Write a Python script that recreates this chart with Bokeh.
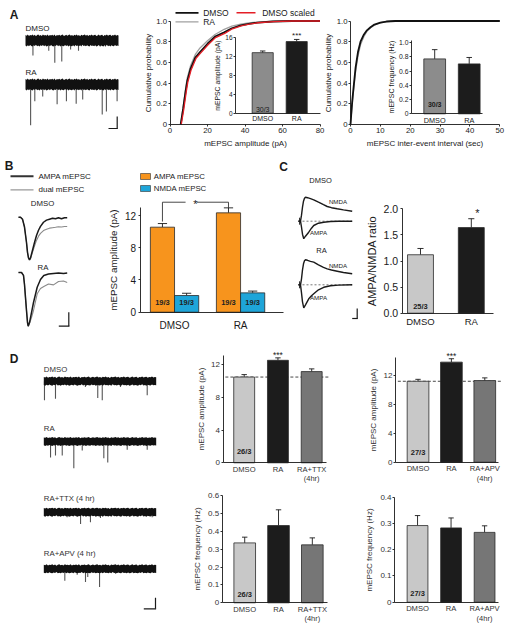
from bokeh.plotting import figure
from bokeh.models import Range1d, FixedTicker, LinearAxis
from bokeh.core.properties import value
from bokeh.embed import file_html
from bokeh.resources import INLINE

FONT = "Liberation Sans"
INK = "#1a1a1a"
W, H = 512, 626

# ======================= DATA =======================
# --- A: cumulative mEPSC amplitude distributions (pA, probability)
ampA_dmso_x = [5.7, 7, 8.4, 9.2, 11, 13.6, 16, 20, 24, 28.9, 33, 37.7, 42, 46.6, 55, 65, 80]
ampA_dmso_y = [0, 0.15, 0.33, 0.42, 0.54, 0.65, 0.70, 0.78, 0.85, 0.89, 0.93, 0.957, 0.972, 0.985, 0.995, 1.0, 1.0]
ampA_ra_x = [5.7, 7, 8.4, 9.2, 11, 13.6, 16, 20, 24, 28.9, 33, 37.7, 42, 46.6, 55, 65, 80]
ampA_ra_y = [0, 0.17, 0.36, 0.45, 0.57, 0.68, 0.74, 0.81, 0.87, 0.92, 0.95, 0.97, 0.982, 0.99, 0.998, 1.0, 1.0]
ampA_scaled_x = [6, 7.3, 8.7, 9.5, 11.3, 13.9, 16.3, 20.3, 24.3, 29.2, 33.3, 38, 42.3, 47, 55.3, 65.3, 80]
ampA_scaled_y = [0, 0.14, 0.32, 0.41, 0.53, 0.64, 0.69, 0.77, 0.84, 0.88, 0.925, 0.953, 0.97, 0.983, 0.994, 1.0, 1.0]
# --- A: cumulative inter-event interval distributions (sec, probability)
iei_x = [0, 0.3, 0.6, 1, 1.7, 2.5, 3.35, 4.5, 5.5, 6.7, 8, 10, 12, 15, 50]
iei_dmso = [0, 0.12, 0.23, 0.35, 0.55, 0.70, 0.80, 0.87, 0.91, 0.94, 0.965, 0.985, 0.995, 1.0, 1.0]
iei_ra = [0, 0.10, 0.20, 0.32, 0.51, 0.66, 0.77, 0.85, 0.90, 0.935, 0.96, 0.983, 0.994, 1.0, 1.0]
# --- A insets
A_groups = ["DMSO", "RA"]
A_amp_mean = [12.85, 15.2]
A_amp_err = [0.35, 0.45]
A_freq_mean = [0.77, 0.70]
A_freq_err = [0.13, 0.09]
A_n = "30/3"

# --- B: AMPA / NMDA mEPSC amplitude
B_groups = ["DMSO", "RA"]
B_ampa_mean = [10.55, 12.33]
B_ampa_err = [0.45, 0.62]
B_nmda_mean = [2.07, 2.40]
B_nmda_err = [0.28, 0.22]
B_n = "19/3"

# --- C: AMPA/NMDA ratio
C_groups = ["DMSO", "RA"]
C_mean = [1.12, 1.64]
C_err = [0.12, 0.17]
C_n = "25/3"

# --- D: amplitude and frequency
D1_groups = ["DMSO", "RA", "RA+TTX"]
D1_amp_mean = [10.5, 12.55, 11.17]
D1_amp_err = [0.30, 0.30, 0.33]
D1_freq_mean = [0.335, 0.432, 0.324]
D1_freq_err = [0.032, 0.088, 0.039]
D1_n = "26/3"
D2_groups = ["DMSO", "RA", "RA+APV"]
D2_amp_mean = [11.2, 13.85, 11.3]
D2_amp_err = [0.27, 0.47, 0.37]
D2_freq_mean = [0.292, 0.283, 0.266]
D2_freq_err = [0.038, 0.038, 0.025]
D2_n = "27/3"

# --- example traces: noise envelope (pA) and events (time s, amplitude pA)
noise_t = [i * 0.125 for i in range(81)]
noise_hi = [9, 8, 10, 7.5, 9, 8.5, 10, 8, 9.5, 7, 9, 10, 8, 9, 7.5, 10, 8.5, 9, 8, 10,
            7.5, 9, 8.5, 9.5, 8, 10, 7, 9, 8.5, 9.5, 8, 9, 10, 7.5, 8.5, 9.5, 8, 9, 10, 8,
            9, 7.5, 9.5, 8.5, 10, 8, 9, 7, 9.5, 8.5, 9, 10, 8, 9.5, 7.5, 9, 8.5, 10, 8, 9,
            9.5, 7.5, 8.5, 10, 8, 9, 9.5, 7, 9, 8.5, 10, 8, 9, 9.5, 7.5, 9, 8.5, 10, 8, 9, 8.5]
noise_lo = [-8.5, -10, -8, -9.5, -7.5, -9, -10, -8, -9, -7, -9.5, -8.5, -10, -8, -9, -7.5, -9.5, -8, -10, -9,
            -8, -9.5, -7.5, -9, -10, -8.5, -9, -7, -9.5, -8, -10, -8.5, -9, -9.5, -7.5, -9, -8, -10, -8.5, -9,
            -9.5, -8, -10, -7.5, -9, -8.5, -9.5, -8, -10, -7, -9, -8.5, -9.5, -8, -9, -10, -7.5, -9, -8.5, -9.5,
            -8, -10, -9, -7.5, -9.5, -8.5, -9, -10, -8, -9, -7, -9.5, -8.5, -10, -8, -9, -9.5, -7.5, -9, -8.5, -9]
trA_dmso_t = [0.8, 2.5, 3.15, 3.9, 4.85, 5.7, 8.05, 8.6]
trA_dmso_a = [25, 17, 37, 35, 15, 17, 10, 10]
trA_ra_t = [0.55, 1.0, 1.85, 3.4, 4.4, 5.45, 6.15, 8.25, 8.7, 9.85]
trA_ra_a = [68, 28, 20, 33, 28, 32, 25, 50, 45, 28]
trD_dmso_t = [0.06, 1.04, 3.7, 4.8, 5.2, 6.82, 9.2]
trD_dmso_a = [42, 39, 13, 37, 42, 13, 31]
trD_ra_t = [0.6, 1.04, 1.64, 2.67, 3.42, 5.34, 5.69, 7.42, 9.2]
trD_ra_a = [35, 31, 31, 59, 20, 37, 46, 18, 18]
trD_ttx_t = [2.08, 3.27, 4.15, 5.04, 9.64]
trD_ttx_a = [11, 26, 22, 13, 11]
trD_apv_t = [1.87, 2.97, 3.71, 3.91, 4.96, 6.38]
trD_apv_a = [26, 13, 29, 18, 40, 11]

# --- B: averaged mEPSC waveforms (ms, pA)
wB_dmso_t = [0, 2, 4, 6, 8, 9, 10, 11, 12, 14, 16, 18, 20, 22, 25, 28, 31, 34, 37, 40, 43, 46, 48.7]
wB_dmso_ampa = [0, 0, -1.4, -7, -18, -25, -29, -30.3, -29, -23.5, -18, -13, -9.3, -6.5, -3.6, -2.1, -1.4,
                -0.7, -1.1, -0.4, -1.1, -0.4, -0.4]
wB_dmso_dual = [0, 0, -1.4, -7, -18, -25, -29, -30.3, -29.5, -25, -20.5, -16.5, -13.5, -11.5, -9.5, -8.5,
                -7.8, -7.5, -7.2, -6.8, -7, -6.6, -6.6]
wB_ra_t = [0, 3, 5, 6, 7, 8, 9, 9.7, 11, 13, 15, 18.7, 22, 25.3, 30, 35, 40, 45, 48.7]
wB_ra_ampa = [0, 0, -2.1, -8.6, -17.9, -27.1, -35.7, -38.3, -35.7, -28.6, -21.4, -10.5, -5, -2.1, -1.1,
              -0.7, -0.4, -0.7, -0.4]
wB_ra_dual = [0, 0, -2.1, -8.6, -17.9, -27.1, -35.7, -38.3, -36.4, -32.1, -27.1, -15.2, -11.4, -10, -8.2,
              -8.8, -6.4, -6.1, -7.1]

# --- C: evoked EPSCs (ms, pA)
wC_nmda_t = [0, 8, 12, 16, 20, 24, 28, 36, 48, 61, 80, 100, 115, 132, 155, 180, 215]
wC_dmso_nmda = [0, 0, 12, 28, 40, 46, 48, 47, 45, 42.8, 38, 33, 29.4, 27, 24.8, 22.6, 20]
wC_ra_nmda = [0, 0, 12, 30, 42, 48, 50, 49, 47, 45.2, 40, 35, 32, 29.6, 27.2, 24.6, 22]
wC_ampa_t = [0, 8, 12, 16, 21, 28, 41, 52, 61, 80, 101, 128, 160, 215]
wC_dmso_ampa = [0, 0, -12, -26, -35, -30, -22, -14, -8.6, -4, -2, -0.6, 0, 0]
wC_ra_ampa = [0, 0, -16, -34, -46, -40, -28, -22, -18, -10, -5, -2, -0.6, 0]

# ======================= FIGURE =======================
# One page-sized figure; page pixel coordinates are the default ranges and every chart
# gets its own pair of extra ranges placing it in its own region.
p = figure(width=W, height=H, x_range=Range1d(0, W), y_range=Range1d(H, 0),
           output_backend="svg", toolbar_location=None, x_axis_type=None, y_axis_type=None,
           min_border_left=0, min_border_right=0, min_border_top=0, min_border_bottom=0)
p.background_fill_color = None
p.border_fill_color = "white"
p.outline_line_color = None

XR, YR = {}, {}


def region(name, L, T, R, B, x0, x1, y0, y1):
    """Scales for a chart whose data x0..x1 spans page pixels L..R and y0..y1 spans B..T."""
    kx = (x1 - x0) / (R - L)
    ky = (y1 - y0) / (B - T)
    XR[name + "_x"] = Range1d(x0 - L * kx, x1 + (W - R) * kx)
    YR[name + "_y"] = Range1d(y0 - (H - B) * ky, y1 + T * ky)
    return dict(x_range_name=name + "_x", y_range_name=name + "_y")


def style_axis(ax, tick_fs, label_fs, tick_out=2, lstand=1, astand=2, color=INK):
    ax.axis_line_color = INK
    ax.axis_line_width = 0.9
    ax.major_tick_line_color = INK
    ax.major_tick_line_width = 0.9
    ax.minor_tick_line_color = None
    ax.major_tick_in = 0
    ax.major_tick_out = tick_out
    ax.major_label_text_font = FONT
    ax.major_label_text_font_size = tick_fs
    ax.major_label_text_color = color
    ax.axis_label_text_font = FONT
    ax.axis_label_text_font_size = label_fs
    ax.axis_label_text_font_style = "normal"
    ax.axis_label_text_color = color
    ax.major_label_standoff = lstand
    ax.axis_label_standoff = astand


def y_axis(rn, xloc, ticks, labels, bounds, label, tick_fs, label_fs, color=INK, lstand=1, astand=2):
    ax = LinearAxis(fixed_location=xloc, ticker=FixedTicker(ticks=ticks, minor_ticks=[]),
                    major_label_overrides=dict(zip(ticks, labels)), bounds=bounds, **rn)
    if label:
        ax.axis_label = label
    style_axis(ax, tick_fs, label_fs, lstand=lstand, astand=astand, color=color)
    p.add_layout(ax, "left")
    return ax


def x_axis_num(rn, yloc, ticks, labels, bounds, label, tick_fs, label_fs):
    ax = LinearAxis(fixed_location=yloc, ticker=FixedTicker(ticks=ticks, minor_ticks=[]),
                    major_label_overrides=dict(zip(ticks, labels)), bounds=bounds, **rn)
    if label:
        ax.axis_label = label
    style_axis(ax, tick_fs, label_fs, astand=3)
    p.add_layout(ax, "below")
    return ax


def x_axis_cat(rn, yloc, cats, bounds, fs, standoff, color=INK):
    ticks = list(range(len(cats)))
    ax = LinearAxis(fixed_location=yloc, ticker=FixedTicker(ticks=ticks, minor_ticks=[]),
                    major_label_overrides=dict(zip(ticks, cats)), bounds=bounds, **rn)
    style_axis(ax, fs, fs, tick_out=0, lstand=standoff, color=color)
    ax.major_tick_line_color = None
    p.add_layout(ax, "below")
    return ax


def draw_bars(rn, xs, means, errs, colors, width, cap):
    tops = [m + e for m, e in zip(means, errs)]
    p.segment(x0=xs, y0=means, x1=xs, y1=tops, line_color=INK, line_width=0.9, **rn)
    p.segment(x0=[x - cap for x in xs], y0=tops, x1=[x + cap for x in xs], y1=tops,
              line_color=INK, line_width=0.9, **rn)
    p.vbar(x=xs, top=means, width=width, fill_color=colors, line_color="#2a2a2a", line_width=0.8, **rn)


def ftext(x, y, s, fs, yoff=0, bold=False, color=INK, align="center", rn=None):
    p.text(x=[x], y=[y], text=[s], text_font=value(FONT), text_font_size=fs,
           text_align=align, text_baseline="middle", text_color=color,
           text_font_style="bold" if bold else "normal", y_offset=yoff, **(rn or {}))


def cseg(x0, y0, x1, y1, color=INK, w=1.2):
    p.segment(x0=[x0], y0=[y0], x1=[x1], y1=[y1], line_color=color, line_width=w)


def noisy_trace(name, L, T, R, B, y0, y1, ev_t, ev_a):
    rn = region(name, L, T, R, B, 0, 10, y0, y1)
    p.segment(x0=ev_t, y0=[0] * len(ev_t), x1=ev_t, y1=[-a for a in ev_a],
              line_color="#555555", line_width=1.1, **rn)
    p.varea(x=noise_t, y1=noise_lo, y2=noise_hi, fill_color="#111111", **rn)


# ---------------- page annotations ----------------
for letter, lx, ly in [("A", 13.7, 14.2), ("B", 8.5, 165.5), ("C", 283, 166.7), ("D", 13.7, 358.8)]:
    ftext(lx, ly, letter, "12px", bold=True)

ftext(25, 28, "DMSO", "8px", align="left")
ftext(25, 72, "RA", "8px", align="left")
cseg(116.7, 116, 116.7, 128)
cseg(108, 128, 117.3, 128)
cseg(175, 12.3, 198, 12.3, color="#111111", w=1.8)
ftext(202.7, 12.3, "DMSO", "8.5px", align="left")
cseg(175, 21.3, 198, 21.3, color="#a0a0a0", w=1.3)
ftext(202.7, 21.3, "RA", "8.5px", align="left")
cseg(236, 12.3, 255, 12.3, color="#e41e26", w=1.5)
ftext(261.7, 12.3, "DMSO scaled", "8.5px", align="left")

cseg(10, 175.7, 33, 175.7, color="#333333", w=2)
ftext(38, 175.7, "AMPA mEPSC", "8px", align="left")
cseg(10, 189.3, 33, 189.3, color="#999999", w=1.2)
ftext(38, 189.3, "dual mEPSC", "8px", align="left")
ftext(42, 203.3, "DMSO", "7.8px")
ftext(42.5, 266.7, "RA", "7.8px")
cseg(68.3, 311.7, 68.3, 325.7)
cseg(58.3, 325.7, 68.9, 325.7)
p.rect(x=[145], y=[176], width=[10], height=[6], fill_color="#f7941d", line_color="#333333", line_width=0.6)
ftext(153.3, 176, "AMPA mEPSC", "7.8px", align="left")
p.rect(x=[145], y=[188], width=[10], height=[6], fill_color="#1ea5d9", line_color="#333333", line_width=0.6)
ftext(153.3, 188, "NMDA mEPSC", "7.8px", align="left")

ftext(320, 180, "DMSO", "7.5px")
ftext(321, 250, "RA", "7.5px")
ftext(337.5, 200.7, "NMDA", "6.2px")
ftext(318, 231.7, "AMPA", "6.2px")
ftext(337.5, 265, "NMDA", "6.2px")
ftext(318, 296.7, "AMPA", "6.2px")
cseg(356.7, 308, 356.7, 318)
cseg(351.7, 318, 357.3, 318)

ftext(43.3, 369, "DMSO", "7.8px", align="left", color="#333333")
ftext(43.3, 428.3, "RA", "7.8px", align="left", color="#333333")
ftext(43.3, 498.3, "RA+TTX (4 hr)", "7.8px", align="left", color="#333333")
ftext(43.3, 553.3, "RA+APV (4 hr)", "7.8px", align="left", color="#333333")
cseg(155, 597.3, 155, 608.3)
cseg(143.3, 608.3, 155.6, 608.3)
ftext(311.2, 477.5, "(4hr)", "7.5px", color="#333333")
ftext(484.2, 477.5, "(4hr)", "7.5px", color="#333333")
ftext(311.8, 617.5, "(4hr)", "7.5px", color="#333333")
ftext(484, 617.5, "(4hr)", "7.5px", color="#333333")

# ---------------- A ----------------
noisy_trace("trAd", 25, 30, 118, 64, -40, 16.7, trA_dmso_t, trA_dmso_a)
noisy_trace("trAr", 25, 74, 118, 128, -73.5, 16.7, trA_ra_t, trA_ra_a)

rn = region("a1", 169.5, 20.5, 319.5, 124, 0, 80, 0, 1)
p.line(ampA_ra_x, ampA_ra_y, line_color="#a0a0a0", line_width=1.3, **rn)
p.line(ampA_dmso_x, ampA_dmso_y, line_color="#111111", line_width=1.8, **rn)
p.line(ampA_scaled_x, ampA_scaled_y, line_color="#e41e26", line_width=1.3, **rn)
y_axis(rn, 0, [0, 0.2, 0.4, 0.6, 0.8, 1.0], ["0", "0.2", "0.4", "0.6", "0.8", "1.0"], (0, 1),
       "Cumulative probability", "7.8px", "8px", astand=1)
x_axis_num(rn, 0, [0, 20, 40, 60, 80], ["0", "20", "40", "60", "80"], (0, 80),
           "mEPSC amplitude (pA)", "7.8px", "8px")

rn = region("i1", 235, 37.3, 320, 112.7, -0.8, 1.7, 0, 16)
draw_bars(rn, [0, 1], A_amp_mean, A_amp_err, ["#8c8c8c", "#1c1c1c"], 0.62, 0.08)
ftext(0, 0, A_n, "7px", yoff=-4, rn=rn)
ftext(1, A_amp_mean[1] + A_amp_err[1], "***", "8px", yoff=-4, rn=rn)
y_axis(rn, -0.8, [0, 4, 8, 12, 16], ["0", "4", "8", "12", "16"], (0, 16), "mEPSC amplitude (pA)",
       "6.5px", "6.8px", astand=1)
x_axis_cat(rn, 0, A_groups, (-0.8, 1.7), "7px", 2)

rn = region("a2", 350, 20.5, 499.3, 124, 0, 50, 0, 1)
p.line(iei_x, iei_ra, line_color="#a0a0a0", line_width=1.3, **rn)
p.line(iei_x, iei_dmso, line_color="#111111", line_width=1.8, **rn)
y_axis(rn, 0, [0, 0.2, 0.4, 0.6, 0.8, 1.0], ["0", "0.2", "0.4", "0.6", "0.8", "1.0"], (0, 1),
       "Cumulative probability", "7.8px", "8px", astand=1)
x_axis_num(rn, 0, [0, 10, 20, 30, 40, 50], ["0", "10", "20", "30", "40", "50"], (0, 50),
           "mEPSC inter-event interval (sec)", "7.8px", "8px")

rn = region("i2", 411, 42, 482, 113.3, -0.672, 1.385, 0, 1.0)
draw_bars(rn, [0, 1], A_freq_mean, A_freq_err, ["#8c8c8c", "#1c1c1c"], 0.63, 0.08)
ftext(0, 0, A_n, "7px", yoff=-9, bold=True, rn=rn)
y_axis(rn, -0.672, [0, 0.2, 0.4, 0.6, 0.8, 1.0], ["0", "0.2", "0.4", "0.6", "0.8", "1.0"], (0, 1.03),
       "mEPSC frequency (Hz)", "6.8px", "7px", astand=1)
x_axis_cat(rn, 0, A_groups, (-0.672, 1.385), "7.3px", 2)

# ---------------- B ----------------
rn = region("wBd", 18, 216.7, 66.7, 259.3, 0, 48.7, -30.3, 0)
p.line(wB_dmso_t, wB_dmso_dual, line_color="#8a8a8a", line_width=1.1, **rn)
p.line(wB_dmso_t, wB_dmso_ampa, line_color="#1a1a1a", line_width=1.5, **rn)
rn = region("wBr", 18, 272, 66.7, 325.7, 0, 48.7, -38.3, 0)
p.line(wB_ra_t, wB_ra_dual, line_color="#8a8a8a", line_width=1.1, **rn)
p.line(wB_ra_t, wB_ra_ampa, line_color="#1a1a1a", line_width=1.5, **rn)

rn = region("b", 139.5, 215, 283, 311.7, -0.523, 1.65, 0, 12)
off = 0.183
xa_ampa = [i - off for i in range(len(B_groups))]
xa_nmda = [i + off for i in range(len(B_groups))]
draw_bars(rn, xa_ampa, B_ampa_mean, B_ampa_err, ["#f7941d"] * 2, 0.366, 0.07)
draw_bars(rn, xa_nmda, B_nmda_mean, B_nmda_err, ["#1ea5d9"] * 2, 0.366, 0.07)
for xx in xa_ampa + xa_nmda:
    ftext(xx, 0, B_n, "7.5px", yoff=-10, bold=True, color="#222222", rn=rn)
br_y = 13.65
p.segment(x0=[xa_ampa[0], xa_ampa[0], xa_ampa[0] + 0.52, xa_ampa[1]],
          y0=[B_ampa_mean[0] + B_ampa_err[0] + 0.25, br_y, br_y, br_y],
          x1=[xa_ampa[0], xa_ampa[0] + 0.35, xa_ampa[1], xa_ampa[1]],
          y1=[br_y, br_y, br_y, B_ampa_mean[1] + B_ampa_err[1]],
          line_color="#333333", line_width=0.9, **rn)
ftext((xa_ampa[0] + xa_ampa[1]) / 2, br_y, "*", "11px", yoff=2, rn=rn)
y_axis(rn, -0.523, [0, 4, 8, 12], ["0", "4", "8", "12"], (0, 13), "mEPSC amplitude (pA)",
       "10px", "9.8px", lstand=2, astand=3)
x_axis_cat(rn, 0, B_groups, (-0.523, 1.65), "10px", 8)

# ---------------- C ----------------
for nm_, (base, nmda, ampa) in {"wCd": (220.7, wC_dmso_nmda, wC_dmso_ampa),
                                "wCr": (284.3, wC_ra_nmda, wC_ra_ampa)}.items():
    rn = region(nm_, 298, base - 20, 351.7, base, 0, 215, 0, 40)
    p.line([0, 215], [0, 0], line_color="#555555", line_width=0.8, line_dash="2 2", **rn)
    p.segment(x0=[4], y0=[-7], x1=[4], y1=[7], line_color="#333333", line_width=1, **rn)
    p.line(wC_nmda_t, nmda, line_color="#1a1a1a", line_width=1.4, **rn)
    p.line(wC_ampa_t, ampa, line_color="#1a1a1a", line_width=1.4, **rn)

rn = region("c", 401.7, 208.3, 493, 312.7, -0.36, 1.437, 0, 2.0)
draw_bars(rn, [0, 1], C_mean, C_err, ["#c8c8c8", "#1c1c1c"], 0.51, 0.06)
ftext(0, 0, C_n, "7.5px", yoff=-7, bold=True, color="#222222", rn=rn)
ftext(1.12, C_mean[1] + C_err[1], "*", "11px", yoff=-6, rn=rn)
y_axis(rn, -0.36, [0, 0.5, 1.0, 1.5, 2.0], ["0.0", "0.5", "1.0", "1.5", "2.0"], (0, 2.0),
       "AMPA/NMDA ratio", "10.5px", "11px", lstand=2, astand=3)
x_axis_cat(rn, 0, C_groups, (-0.36, 1.437), "9.5px", 3)

# ---------------- D ----------------
noisy_trace("trDd", 43.3, 372, 155.7, 402, -47, 19, trD_dmso_t, trD_dmso_a)
noisy_trace("trDr", 43.3, 432, 155.7, 470, -63.8, 19.8, trD_ra_t, trD_ra_a)
noisy_trace("trDt", 43.3, 503, 155.7, 526, -31.5, 19.1, trD_ttx_t, trD_ttx_a)
noisy_trace("trDa", 43.3, 560, 155.7, 590, -47.7, 18.3, trD_apv_t, trD_apv_a)

D_colors = ["#c8c8c8", "#1c1c1c", "#767676"]


def d_chart(name, L, T, R, B, x0, x1, y0, y1, groups, mean, err, xaxis_end, ybounds, yticks, ylabels,
            ylabel, n, nyoff, width, stars=None, dashed_end=None):
    rn = region(name, L, T, R, B, x0, x1, y0, y1)
    xs = list(range(len(groups)))
    if dashed_end is not None:
        p.line([x0 + 0.07, dashed_end], [mean[0], mean[0]], line_color="#333333", line_width=0.9,
               line_dash="3 2", **rn)
    draw_bars(rn, xs, mean, err, D_colors, width, 0.08)
    ftext(0, 0, n, "7.5px", yoff=nyoff, bold=True, color="#222222", rn=rn)
    if stars is not None:
        ftext(1, mean[1] + err[1], "***", "8.5px", yoff=stars, rn=rn)
    y_axis(rn, x0, yticks, ylabels, ybounds, ylabel, "8px", "8px", color="#333333", astand=3)
    x_axis_cat(rn, 0, groups, (x0, xaxis_end), "7.6px", 2, color="#333333")


d_chart("d1", 222.5, 364.3, 325.7, 462.3, -0.628, 2.43, 0, 12, D1_groups, D1_amp_mean, D1_amp_err,
        2.43, (0, 13.1), [0, 4, 8, 12], ["0", "4", "8", "12"], "mEPSC amplitude (pA)",
        D1_n, -11, 0.62, stars=-3, dashed_end=2.507)
d_chart("d2", 395, 375, 498.3, 461.7, -0.675, 2.42, 0, 12, D2_groups, D2_amp_mean, D2_amp_err,
        2.42, (0, 14.5), [0, 4, 8, 12], ["0", "4", "8", "12"], "mEPSC amplitude (pA)",
        D2_n, -9.5, 0.65, stars=-3, dashed_end=2.5)
d_chart("d3", 221.7, 495, 326.7, 602.3, -0.666, 2.44, 0, 0.6, D1_groups, D1_freq_mean, D1_freq_err,
        2.44, (0, 0.6), [0, 0.1, 0.2, 0.3, 0.4, 0.5, 0.6],
        ["0", "0.1", "0.2", "0.3", "0.4", "0.5", "0.6"], "mEPSC frequency (Hz)", D1_n, -8, 0.64)
d_chart("d4", 394, 496.7, 497.5, 601.7, -0.687, 2.40, 0, 0.4, D2_groups, D2_freq_mean, D2_freq_err,
        2.40, (0, 0.4), [0, 0.1, 0.2, 0.3, 0.4], ["0", "0.1", "0.2", "0.3", "0.4"],
        "mEPSC frequency (Hz)", D2_n, -8.5, 0.62)

p.extra_x_ranges = XR
p.extra_y_ranges = YR

open("out.html", "w").write(file_html(p, INLINE))
